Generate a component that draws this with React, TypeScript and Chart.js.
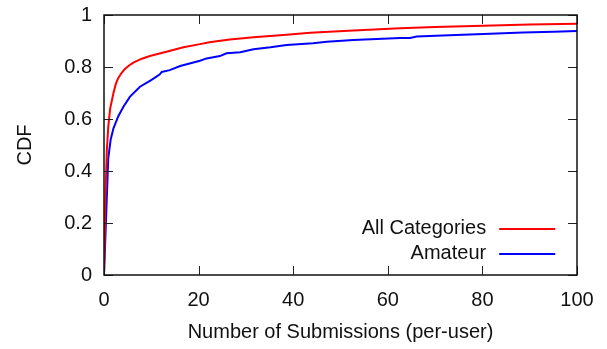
import React, { useEffect, useRef } from "react";
import { Chart, registerables } from "chart.js";

Chart.register(...registerables);

const allLabel = "All Categories";
const amateurLabel = "Amateur";

const allX = [0, 0.3, 0.6, 0.9, 1.3, 2, 2.5, 3, 3.7, 4.4, 5.3, 6.2, 8, 9.7, 13.2, 16.8, 20.3, 22, 23.8, 26.6, 31.6, 38.6, 43.6, 52.7, 62.6, 70, 80.2, 90, 100];
const allY = [0, 0.3, 0.48, 0.57, 0.64, 0.7, 0.735, 0.757, 0.777, 0.792, 0.806, 0.817, 0.832, 0.842, 0.859, 0.876, 0.888, 0.894, 0.899, 0.906, 0.914, 0.924, 0.932, 0.94, 0.949, 0.954, 0.959, 0.963, 0.966];

const amateurX = [0, 0.9, 1.4, 2, 3, 4.1, 5.5, 7.6, 9.7, 11.1, 11.8, 12.2, 13.9, 16.1, 18.9, 20.3, 21.7, 24.5, 25.9, 28.8, 31.6, 35.2, 38.6, 44.2, 47.1, 52.7, 57.7, 62.6, 64.7, 66.1, 73, 80.2, 88.6, 95, 100];
const amateurY = [0, 0.449, 0.52, 0.564, 0.61, 0.647, 0.686, 0.724, 0.747, 0.763, 0.772, 0.781, 0.788, 0.804, 0.817, 0.824, 0.833, 0.842, 0.853, 0.857, 0.868, 0.876, 0.885, 0.891, 0.897, 0.904, 0.908, 0.912, 0.912, 0.917, 0.922, 0.927, 0.933, 0.936, 0.938];

const xTicks = [0, 20, 40, 60, 80, 100];
const yTicks = [0, 0.2, 0.4, 0.6, 0.8, 1];

const FONT = "'Liberation Sans', Arial, Helvetica, sans-serif";
const FS = 20;

const framePlugin = {
  id: "gnuframe",
  afterDatasetsDraw(chart: any) {
    const { ctx, chartArea: a, scales } = chart;
    const x = scales.x;
    const y = scales.y;
    ctx.save();
    ctx.strokeStyle = "#222";
    ctx.lineWidth = 1;
    const tl = 9;
    ctx.beginPath();
    for (const v of xTicks) {
      const px = Math.round(x.getPixelForValue(v)) + 0.5;
      ctx.moveTo(px, a.bottom);
      ctx.lineTo(px, a.bottom - tl);
      ctx.moveTo(px, a.top);
      ctx.lineTo(px, a.top + tl);
    }
    for (const v of yTicks) {
      const py = Math.round(y.getPixelForValue(v)) + 0.5;
      ctx.moveTo(a.left, py);
      ctx.lineTo(a.left + tl, py);
      ctx.moveTo(a.right, py);
      ctx.lineTo(a.right - tl, py);
    }
    ctx.stroke();
    ctx.lineWidth = 1.5;
    ctx.strokeStyle = "#111";
    ctx.strokeRect(a.left, a.top, a.right - a.left, a.bottom - a.top);

    const items = chart.data.datasets;
    const textRight = a.left + (a.right - a.left) * 0.808;
    const lineL = textRight + 13;
    const lineR = lineL + 56;
    const rowY0 = a.top + (a.bottom - a.top) * 0.823;
    const rowH = 25;
    ctx.font = `${FS}px ${FONT}`;
    ctx.textAlign = "right";
    ctx.textBaseline = "middle";
    items.forEach((ds: any, i: number) => {
      const yy = rowY0 + i * rowH;
      ctx.fillStyle = "#111";
      ctx.fillText(ds.label, textRight, yy);
      ctx.strokeStyle = ds.borderColor;
      ctx.lineWidth = 2;
      ctx.beginPath();
      ctx.moveTo(lineL, yy);
      ctx.lineTo(lineR, yy);
      ctx.stroke();
    });
    ctx.restore();
  },
};

export default function App() {
  const ref = useRef<HTMLCanvasElement>(null);
  useEffect(() => {
    document.body.style.margin = "0";
    const canvas = ref.current!;
    const chart = new Chart(canvas, {
      type: "scatter",
      data: {
        datasets: [
          {
            label: allLabel,
            data: allX.map((v, i) => ({ x: v, y: allY[i] })),
            showLine: true,
            borderColor: "#ff0000",
            backgroundColor: "#ff0000",
            borderWidth: 2,
            pointRadius: 0,
            tension: 0,
          },
          {
            label: amateurLabel,
            data: amateurX.map((v, i) => ({ x: v, y: amateurY[i] })),
            showLine: true,
            borderColor: "#0000ff",
            backgroundColor: "#0000ff",
            borderWidth: 2,
            pointRadius: 0,
            tension: 0,
          },
        ],
      },
      options: {
        animation: false,
        responsive: false,
        devicePixelRatio: 1,
        layout: { padding: { top: 15, right: 30, left: 0, bottom: 0 } },
        plugins: { legend: { display: false }, tooltip: { enabled: false } },
        scales: {
          x: {
            type: "linear",
            min: 0,
            max: 100,
            afterFit: (s: any) => {
              s.height = 74;
              s.paddingLeft = 0;
              s.paddingRight = 0;
            },
            afterBuildTicks: (s: any) => {
              s.ticks = xTicks.map((v) => ({ value: v }));
            },
            grid: { display: false, drawTicks: false },
            border: { display: false },
            ticks: {
              padding: 13.5,
              color: "#111",
              font: { family: FONT, size: FS },
              maxRotation: 0,
              callback: (v: any) => String(v),
            },
            title: {
              display: true,
              text: "Number of Submissions (per-user)",
              color: "#111",
              font: { family: FONT, size: FS },
              padding: { top: 0, bottom: 5 },
            },
          },
          y: {
            type: "linear",
            min: 0,
            max: 1,
            afterFit: (s: any) => {
              s.width = 104;
              s.paddingTop = 0;
              s.paddingBottom = 0;
            },
            afterBuildTicks: (s: any) => {
              s.ticks = yTicks.map((v) => ({ value: v }));
            },
            grid: { display: false, drawTicks: false },
            border: { display: false },
            ticks: {
              padding: 12,
              color: "#111",
              font: { family: FONT, size: FS },
              callback: (v: any) => String(Math.round(v * 10) / 10),
            },
            title: {
              display: true,
              text: "CDF",
              color: "#111",
              font: { family: FONT, size: FS },
              padding: { top: 13, bottom: 0 },
            },
          },
        },
      },
      plugins: [framePlugin],
    } as any);
    return () => chart.destroy();
  }, []);
  return (
    <div style={{ width: 607, height: 349 }}>
      <canvas ref={ref} width={607} height={349} style={{ display: "block" }} />
    </div>
  );
}
